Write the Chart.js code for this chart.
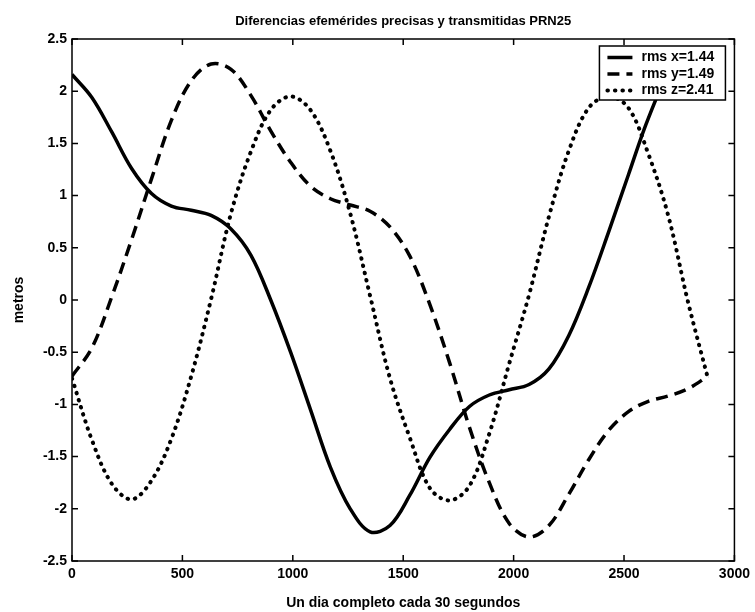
<!DOCTYPE html>
<html>
<head>
<meta charset="utf-8">
<script src="https://cdn.jsdelivr.net/npm/chart.js@4/dist/chart.umd.min.js"></script>
<style>
  body { margin: 0; background: #fff; }
  #wrap { width: 755px; height: 612px; }
</style>
</head>
<body>
<div id="wrap"><canvas id="chart1" width="755" height="612"></canvas></div>
<script>
// muestras (cada 30 s)
const tiempo = [0, 90, 180, 270, 360, 450, 540, 630, 720, 810, 900, 990, 1080, 1170, 1260, 1350, 1440,
  1530, 1620, 1710, 1800, 1890, 1980, 2070, 2160, 2250, 2340, 2430, 2520, 2610, 2700, 2790, 2880]
const difX = [2.16, 1.94, 1.61, 1.26, 1.02, 0.90, 0.86, 0.81, 0.68, 0.43, 0.00, -0.50, -1.05, -1.60, -2.00, -2.22, -2.16,
  -1.87, -1.51, -1.24, -1.02, -0.91, -0.86, -0.81, -0.66, -0.34, 0.12, 0.65, 1.20, 1.74, 2.15, 2.30, 2.18]
const difY = [-0.73, -0.46, 0.03, 0.58, 1.16, 1.72, 2.10, 2.26, 2.21, 1.96, 1.62, 1.32, 1.09, 0.97, 0.91, 0.85, 0.70,
  0.42, -0.04, -0.60, -1.22, -1.75, -2.14, -2.27, -2.16, -1.86, -1.53, -1.25, -1.07, -0.97, -0.92, -0.85, -0.73]
const difZ = [-0.75, -1.34, -1.76, -1.91, -1.73, -1.33, -0.73, 0.01, 0.83, 1.42, 1.82, 1.95, 1.82, 1.43, 0.83, 0.04, -0.75,
  -1.32, -1.80, -1.92, -1.78, -1.28, -0.61, 0.05, 0.80, 1.43, 1.84, 1.95, 1.84, 1.40, 0.81, -0.02, -0.75]
const etiquetas = ['rms x=1.44', 'rms y=1.49', 'rms z=2.41']

const fam = '"Liberation Sans", Arial, Helvetica, sans-serif'

function pts(vals) {
  return tiempo.map((t, i) => ({x: t, y: vals[i]}))
}

// caja, marcas hacia adentro y leyenda (estilo matlab)
const cajaMatlab = {
  id: 'cajaMatlab',
  afterDatasetsDraw(chart) {
    const {ctx, chartArea: a, scales: {x, y}} = chart
    ctx.save()
    ctx.strokeStyle = '#000'
    ctx.lineWidth = 1.5
    ctx.strokeRect(a.left, a.top, a.right - a.left, a.bottom - a.top)
    ctx.beginPath()
    x.ticks.forEach(t => {
      const px = x.getPixelForValue(t.value)
      ctx.moveTo(px, a.bottom); ctx.lineTo(px, a.bottom - 6)
      ctx.moveTo(px, a.top); ctx.lineTo(px, a.top + 6)
    })
    y.ticks.forEach(t => {
      const py = y.getPixelForValue(t.value)
      ctx.moveTo(a.left, py); ctx.lineTo(a.left + 6, py)
      ctx.moveTo(a.right, py); ctx.lineTo(a.right - 6, py)
    })
    ctx.stroke()

    // leyenda
    const bx = a.right - 135, by = a.top + 7, bw = 126, bh = 54
    ctx.fillStyle = '#fff'
    ctx.fillRect(bx, by, bw, bh)
    ctx.lineWidth = 1.5
    ctx.strokeRect(bx, by, bw, bh)
    chart.data.datasets.forEach((ds, i) => {
      const ry = by + 11.5 + i * 16.5
      ctx.beginPath()
      ctx.setLineDash(ds.borderDash || [])
      ctx.lineCap = ds.borderCapStyle || 'butt'
      ctx.lineWidth = ds.borderWidth
      ctx.moveTo(bx + 8, ry); ctx.lineTo(bx + 33, ry)
      ctx.stroke()
      ctx.setLineDash([])
      ctx.fillStyle = '#000'
      ctx.font = 'bold 14px ' + fam
      ctx.textBaseline = 'middle'
      ctx.textAlign = 'left'
      ctx.fillText(ds.label, bx + 42, ry)
    })
    ctx.restore()
  }
}

const ctx1 = document.getElementById('chart1').getContext('2d')
const myChart = new Chart(ctx1, {
  type: 'line',
  data: {
    datasets: [{
      label: etiquetas[0],
      data: pts(difX),
      borderColor: '#000',
      borderWidth: 3.5,
      pointRadius: 0,
      tension: 0.35
    }, {
      label: etiquetas[1],
      data: pts(difY),
      borderColor: '#000',
      borderWidth: 3.5,
      borderDash: [12, 7],
      pointRadius: 0,
      tension: 0.35
    }, {
      label: etiquetas[2],
      data: pts(difZ),
      borderColor: '#000',
      borderWidth: 4,
      borderDash: [0.5, 7],
      borderCapStyle: 'round',
      pointRadius: 0,
      tension: 0.35
    }]
  },
  options: {
    responsive: false,
    animation: false,
    devicePixelRatio: 1,
    layout: { padding: { left: 0, right: 17, top: 0, bottom: 0 } },
    plugins: {
      legend: { display: false },
      tooltip: { enabled: false },
      title: {
        display: true,
        text: 'Diferencias efemérides precisas y transmitidas PRN25',
        color: '#000',
        fullSize: false,
        font: { family: fam, size: 13, weight: 'bold' },
        padding: { top: 14, bottom: 9.4 }
      }
    },
    scales: {
      x: {
        type: 'linear',
        min: 0,
        max: 3000,
        afterFit(s) { s.height = 51 },
        grid: { display: false, drawTicks: false },
        border: { display: false },
        ticks: {
          stepSize: 500,
          padding: 5,
          color: '#000',
          maxRotation: 0,
          font: { family: fam, size: 14, weight: 'bold' },
          callback: v => String(v)
        },
        title: {
          display: true,
          text: 'Un dia completo cada 30 segundos',
          color: '#000',
          font: { family: fam, size: 14, weight: 'bold' },
          padding: { top: 0, bottom: 0 }
        }
      },
      y: {
        min: -2.5,
        max: 2.5,
        afterFit(s) { s.width = 72 },
        grid: { display: false, drawTicks: false },
        border: { display: false },
        ticks: {
          stepSize: 0.5,
          padding: 5,
          color: '#000',
          font: { family: fam, size: 14, weight: 'bold' },
          callback: v => String(v)
        },
        title: {
          display: true,
          text: 'metros',
          color: '#000',
          font: { family: fam, size: 14, weight: 'bold' },
          padding: { top: 11, bottom: 0 }
        }
      }
    }
  },
  plugins: [cajaMatlab]
})
</script>
</body>
</html>
